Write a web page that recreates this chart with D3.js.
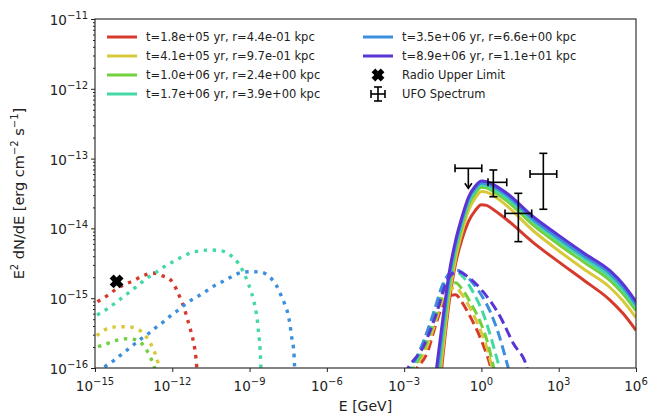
<!DOCTYPE html>
<html><head><meta charset="utf-8">
<script src="https://cdn.jsdelivr.net/npm/d3@7"></script>
<style>body{margin:0;background:#fff}svg{font-family:"DejaVu Sans",sans-serif}</style>
</head><body><svg id="c" width="649" height="415"></svg>
<script>
// ---- data (log10 values) ----
const seriesColors = ["#d63a2c","#d8c83a","#72cf3e","#44d8a4","#3b8fdd","#5b34d6"];
const seriesLabels = [
  "t=1.8e+05 yr, r=4.4e-01 kpc",
  "t=4.1e+05 yr, r=9.7e-01 kpc",
  "t=1.0e+06 yr, r=2.4e+00 kpc",
  "t=1.7e+06 yr, r=3.9e+00 kpc",
  "t=3.5e+06 yr, r=6.6e+00 kpc",
  "t=8.9e+06 yr, r=1.1e+01 kpc"
];
// solid (gamma-ray) curves: log10 E [GeV] grid and log10 flux
const solidLogE = [-1.8,-1.5,-1.25,-1,-0.75,-0.5,-0.25,0,0.2,0.5,1,2,3,4,5,5.5,6];
const solidRed    = [-17.0,-15.85,-15.05,-14.5,-14.15,-13.9,-13.75,-13.66,-13.67,-13.74,-13.88,-14.2,-14.48,-14.75,-15.03,-15.22,-15.46];
const solidYellow = [-16.7,-15.75,-14.97,-14.43,-14.05,-13.74,-13.57,-13.47,-13.48,-13.54,-13.68,-14.03,-14.32,-14.59,-14.85,-15.04,-15.28];
const solidGreen  = [-16.5,-15.6,-14.84,-14.33,-13.96,-13.66,-13.5,-13.41,-13.42,-13.48,-13.61,-13.95,-14.23,-14.49,-14.75,-14.94,-15.18];
const solidTeal   = [-16.4,-15.5,-14.76,-14.27,-13.91,-13.62,-13.46,-13.38,-13.39,-13.44,-13.57,-13.9,-14.18,-14.44,-14.7,-14.89,-15.13];
const solidBlue   = [-16.3,-15.4,-14.7,-14.22,-13.87,-13.58,-13.43,-13.35,-13.36,-13.41,-13.53,-13.87,-14.14,-14.4,-14.65,-14.84,-15.09];
const solidPurple = [-16.17,-15.3,-14.63,-14.17,-13.83,-13.55,-13.4,-13.32,-13.33,-13.38,-13.5,-13.83,-14.1,-14.36,-14.61,-14.8,-15.05];

// dashed curves: [log10 E, log10 flux]
const dashedRed    = [[-2.7,-16.1],[-2.5,-16.0],[-2.06,-15.74],[-1.87,-15.5],[-1.5,-15.1],[-1.2,-14.96],[-1.0,-14.95],[-0.77,-15.05],[-0.44,-15.26],[-0.12,-15.5],[0.14,-15.74],[0.33,-15.95],[0.4,-16.05]];
const dashedYellow = [[-2.8,-16.1],[-2.6,-16.0],[-2.1,-15.68],[-1.85,-15.42],[-1.5,-15.02],[-1.2,-14.87],[-1.0,-14.85],[-0.75,-14.95],[-0.4,-15.17],[-0.05,-15.45],[0.2,-15.7],[0.4,-15.97],[0.48,-16.08]];
const dashedGreen  = [[-2.85,-16.1],[-2.65,-16.0],[-2.15,-15.65],[-1.85,-15.35],[-1.5,-14.95],[-1.2,-14.8],[-1.0,-14.78],[-0.75,-14.87],[-0.4,-15.08],[0,-15.38],[0.25,-15.65],[0.46,-15.97],[0.55,-16.1]];
const dashedTeal   = [[-2.9,-16.1],[-2.7,-16.0],[-2.2,-15.6],[-1.85,-15.22],[-1.5,-14.82],[-1.2,-14.65],[-1.0,-14.62],[-0.7,-14.7],[-0.3,-14.93],[0.1,-15.25],[0.4,-15.6],[0.68,-15.97],[0.78,-16.1]];
const dashedBlue   = [[-2.95,-16.1],[-2.75,-16.0],[-2.25,-15.62],[-1.85,-15.2],[-1.5,-14.8],[-1.2,-14.63],[-0.95,-14.6],[-0.6,-14.68],[-0.1,-14.9],[0.35,-15.2],[0.7,-15.55],[1.02,-15.97],[1.12,-16.1]];
const dashedPurple = [[-3.0,-16.1],[-2.85,-16.0],[-2.25,-15.69],[-1.74,-15.21],[-1.35,-14.76],[-1.1,-14.64],[-0.9,-14.62],[-0.5,-14.7],[0,-14.88],[0.72,-15.26],[1.24,-15.65],[1.76,-15.98],[1.85,-16.1]];

// dotted (radio) curves
const dottedRed = {
  logE: [-15.2,-14.91,-14.55,-14.22,-13.9,-13.51,-13.15,-12.74,-12.38,-12.06,-11.83,-11.67,-11.53,-11.42,-11.31,-11.21,-11.13,-11.08,-11.05],
  logF: [-15.12,-15.05,-14.97,-14.88,-14.81,-14.75,-14.68,-14.64,-14.68,-14.74,-14.88,-15.02,-15.15,-15.29,-15.43,-15.57,-15.72,-15.86,-15.99]};
const dottedYellow = {
  logE: [-15.2,-14.91,-14.48,-14.1,-13.71,-13.36,-13.06,-12.84,-12.67,-12.54,-12.48],
  logF: [-15.62,-15.53,-15.43,-15.41,-15.41,-15.44,-15.53,-15.65,-15.79,-15.94,-16.02]};
const dottedGreen = {
  logE: [-15.2,-14.91,-14.52,-14.13,-13.75,-13.38,-13.09,-12.87,-12.71,-12.66],
  logF: [-15.75,-15.7,-15.65,-15.6,-15.58,-15.6,-15.69,-15.83,-15.97,-16.03]};
const dottedTeal = {
  logE: [-15.2,-14.91,-14.55,-14.22,-13.9,-13.58,-13.28,-12.97,-12.63,-12.32,-11.99,-11.64,-11.27,-10.89,-10.5,-10.11,-9.76,-9.44,-9.22,-9.05,-8.92,-8.83,-8.75,-8.7,-8.66,-8.62,-8.59,-8.57,-8.55],
  logF: [-15.32,-15.24,-15.16,-15.07,-14.98,-14.89,-14.8,-14.71,-14.63,-14.55,-14.48,-14.41,-14.35,-14.32,-14.31,-14.32,-14.38,-14.5,-14.64,-14.79,-14.93,-15.05,-15.19,-15.31,-15.46,-15.6,-15.74,-15.9,-16.05]};
const dottedBlue = {
  logE: [-14.9,-14.61,-14.26,-13.92,-13.61,-13.28,-12.97,-12.67,-12.35,-12.03,-11.73,-11.41,-11.08,-10.73,-10.41,-10.04,-9.69,-9.31,-8.92,-8.53,-8.21,-7.97,-7.79,-7.62,-7.5,-7.43,-7.37,-7.3,-7.27,-7.25],
  logF: [-16.07,-15.98,-15.89,-15.79,-15.7,-15.6,-15.52,-15.43,-15.34,-15.24,-15.16,-15.06,-14.99,-14.91,-14.83,-14.76,-14.69,-14.63,-14.62,-14.63,-14.7,-14.81,-14.95,-15.1,-15.24,-15.38,-15.55,-15.7,-15.84,-16.0]};

// radio upper limit
const radioE = [6.9e-15];
const radioF = [1.74e-15];
// UFO spectrum points (GeV, erg cm^-2 s^-1); first point is an upper limit
const ufoE   = [0.31, 2.9, 27.1, 253];
const ufoELo = [0.0944, 1.8, 8.24, 77.1];
const ufoEHi = [1.03, 9.6, 89.5, 838];
const ufoF   = [7.26e-14, 4.57e-14, 1.64e-14, 6.01e-14];
const ufoFLo = [3.76e-14, 2.84e-14, 6.46e-15, 1.88e-14];
const ufoFHi = [7.26e-14, 6.87e-14, 3.18e-14, 1.19e-13];
const ufoUpperLimit = [true, false, false, false];

const xTickExps = [-15,-12,-9,-6,-3,0,3,6];
const yTickExps = [-16,-15,-14,-13,-12,-11];

// ---- drawing ----
const svg = d3.select("#c");
const L = 95, R = 636, T = 19, B = 368;
const x = d3.scaleLog().domain([1e-15, 1e6]).range([L, R]);
const y = d3.scaleLog().domain([1e-16, 1e-11]).range([B, T]);

svg.append("defs").append("clipPath").attr("id","clip")
  .append("rect").attr("x",L).attr("y",T).attr("width",R-L).attr("height",B-T);

const gPlot = svg.append("g").attr("clip-path","url(#clip)");
const line = d3.line().x(d => x(Math.pow(10,d[0]))).y(d => y(Math.pow(10,d[1]))).curve(d3.curveMonotoneX);

const solids = [solidRed, solidYellow, solidGreen, solidTeal, solidBlue, solidPurple];
const dasheds = [dashedRed, dashedYellow, dashedGreen, dashedTeal, dashedBlue, dashedPurple];
const dotteds = [dottedRed, dottedYellow, dottedGreen, dottedTeal, dottedBlue, null];

for (let i = 0; i < 6; i++) {
  const c = seriesColors[i];
  const sd = solidLogE.map((e, k) => [e, solids[i][k]]);
  gPlot.append("path").attr("d", line(sd)).attr("fill","none").attr("stroke",c).attr("stroke-width",3);
  gPlot.append("path").attr("d", line(dasheds[i])).attr("fill","none").attr("stroke",c)
    .attr("stroke-width",3).attr("stroke-dasharray","10,5");
  if (dotteds[i]) {
    const dd = dotteds[i].logE.map((e, k) => [e, dotteds[i].logF[k]]);
    gPlot.append("path").attr("d", line(dd)).attr("fill","none").attr("stroke",c)
      .attr("stroke-width",3.4).attr("stroke-dasharray","3.4,5.6");
  }
}

// X marker
function xMarker(g, cx, cy, s) {
  const a = s/2, w = s*0.2;
  const pts = [[-w,-a],[w,-a],[w,-w],[a,-w],[a,w],[w,w],[w,a],[-w,a],[-w,w],[-a,w],[-a,-w],[-w,-w]];
  g.append("path").attr("d", "M" + pts.map(p => p.join(",")).join("L") + "Z")
    .attr("transform", `translate(${cx},${cy}) rotate(45)`).attr("fill","#000");
}
radioE.forEach((e, i) => xMarker(svg, x(e), y(radioF[i]), 14));

// UFO error bars
const gE = svg.append("g").attr("stroke","#000").attr("stroke-width",1.6).attr("fill","none");
const cap = 4;
ufoE.forEach((e, i) => {
  const cx = x(e), cy = y(ufoF[i]);
  const x0 = x(ufoELo[i]), x1 = x(ufoEHi[i]);
  const y0 = y(ufoFLo[i]), y1 = y(ufoFHi[i]);
  gE.append("line").attr("x1",x0).attr("x2",x1).attr("y1",cy).attr("y2",cy);
  gE.append("line").attr("x1",x0).attr("x2",x0).attr("y1",cy-cap).attr("y2",cy+cap);
  gE.append("line").attr("x1",x1).attr("x2",x1).attr("y1",cy-cap).attr("y2",cy+cap);
  gE.append("line").attr("x1",cx).attr("x2",cx).attr("y1",y1).attr("y2",y0);
  if (ufoUpperLimit[i]) {
    gE.append("path").attr("d",`M${cx-3.5},${y0-5}L${cx},${y0}L${cx+3.5},${y0-5}`);
  } else {
    gE.append("line").attr("x1",cx-cap).attr("x2",cx+cap).attr("y1",y0).attr("y2",y0);
    gE.append("line").attr("x1",cx-cap).attr("x2",cx+cap).attr("y1",y1).attr("y2",y1);
  }
});

// axes
const xAxis = d3.axisBottom(x).tickValues(xTickExps.map(e => Math.pow(10,e))).tickFormat("").tickSize(4);
const gx = svg.append("g").attr("transform",`translate(0,${B})`).call(xAxis);
gx.select(".domain").remove();
gx.selectAll("line").attr("stroke","#222");

const minorY = [];
for (let d = -16; d < -11; d++) for (let m = 2; m <= 9; m++) minorY.push(m*Math.pow(10,d));
const gyMinor = svg.append("g").attr("transform",`translate(${L},0)`)
  .call(d3.axisLeft(y).tickValues(minorY).tickFormat("").tickSize(2));
gyMinor.select(".domain").remove();
gyMinor.selectAll("line").attr("stroke","#222");
const gy = svg.append("g").attr("transform",`translate(${L},0)`)
  .call(d3.axisLeft(y).tickValues(yTickExps.map(e => Math.pow(10,e))).tickFormat("").tickSize(4));
gy.select(".domain").remove();
gy.selectAll("line").attr("stroke","#222");

svg.append("rect").attr("x",L).attr("y",T).attr("width",R-L).attr("height",B-T)
  .attr("fill","none").attr("stroke","#222").attr("stroke-width",1.1);

function powLabel(g, px, py, exp, anchor) {
  const t = g.append("text").attr("x",px).attr("y",py).attr("text-anchor",anchor)
    .attr("font-size",13.5).attr("fill","#222");
  t.append("tspan").text("10");
  t.append("tspan").attr("dy",-6).attr("font-size",10).text(exp < 0 ? "\u2212" + Math.abs(exp) : String(exp));
}
xTickExps.forEach(e => powLabel(svg, x(Math.pow(10,e)), 391, e, "middle"));
yTickExps.forEach(e => powLabel(svg, 88, y(Math.pow(10,e)) + 6, e, "end"));

// axis labels
svg.append("text").attr("x", (L+R)/2).attr("y", 411).attr("text-anchor","middle")
  .attr("font-size",14).attr("fill","#222").text("E [GeV]");
const yl = svg.append("text").attr("transform",`translate(24,${(T+B)/2}) rotate(-90)`)
  .attr("text-anchor","middle").attr("font-size",14.5).attr("fill","#222");
yl.append("tspan").text("E");
yl.append("tspan").attr("dy",-6).attr("font-size",10).text("2");
yl.append("tspan").attr("dy",6).text(" dN/dE [erg cm");
yl.append("tspan").attr("dy",-6).attr("font-size",10).text("\u22122");
yl.append("tspan").attr("dy",6).text(" s");
yl.append("tspan").attr("dy",-6).attr("font-size",10).text("\u22121");
yl.append("tspan").attr("dy",6).text("]");

// legend
const lg = svg.append("g").attr("font-size",11.5).attr("fill","#222");
const rowY = [37, 56, 75, 94];
const legendItems = seriesLabels.map((s, i) => ({label: s, color: seriesColors[i], type: "line"}))
  .concat([{label:"Radio Upper Limit", type:"x"}, {label:"UFO Spectrum", type:"err"}]);
legendItems.forEach((it, i) => {
  const col = Math.floor(i/4), row = i % 4;
  const lx = col === 0 ? 107 : 363, tx = col === 0 ? 146 : 402, ry = rowY[row];
  if (it.type === "line") {
    lg.append("line").attr("x1",lx).attr("x2",lx+30).attr("y1",ry).attr("y2",ry)
      .attr("stroke",it.color).attr("stroke-width",3);
  } else if (it.type === "x") {
    xMarker(lg, lx+15, ry, 13);
  } else {
    const g2 = lg.append("g").attr("stroke","#000").attr("stroke-width",1.6);
    const cx = lx+15;
    g2.append("line").attr("x1",cx-7).attr("x2",cx+7).attr("y1",ry).attr("y2",ry);
    g2.append("line").attr("x1",cx-7).attr("x2",cx-7).attr("y1",ry-4).attr("y2",ry+4);
    g2.append("line").attr("x1",cx+7).attr("x2",cx+7).attr("y1",ry-4).attr("y2",ry+4);
    g2.append("line").attr("x1",cx).attr("x2",cx).attr("y1",ry-7).attr("y2",ry+7);
    g2.append("line").attr("x1",cx-4).attr("x2",cx+4).attr("y1",ry-7).attr("y2",ry-7);
    g2.append("line").attr("x1",cx-4).attr("x2",cx+4).attr("y1",ry+7).attr("y2",ry+7);
  }
  lg.append("text").attr("x",tx).attr("y",ry+4).text(it.label);
});
</script></body></html>
